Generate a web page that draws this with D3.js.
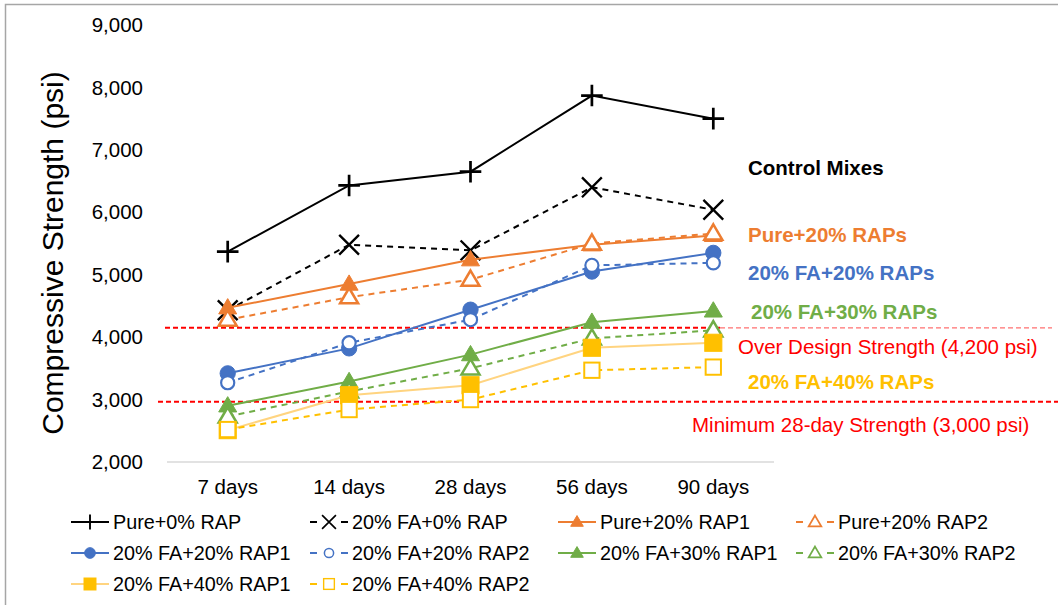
<!DOCTYPE html>
<html>
<head>
<meta charset="utf-8">
<script src="https://cdn.jsdelivr.net/npm/d3@7/dist/d3.min.js"></script>
<style>
  html, body { margin: 0; padding: 0; background: #fff; }
  svg { display: block; font-family: "Liberation Sans", Arial, sans-serif; }
</style>
</head>
<body>
<svg id="chart" width="1058" height="605"></svg>
<script>
// ---- data ----
const categories = ["7 days", "14 days", "28 days", "56 days", "90 days"];
const yTicks = [2000, 3000, 4000, 5000, 6000, 7000, 8000, 9000];

const pure0    = [5370, 6430, 6650, 7870, 7500];
const fa0      = [4430, 5480, 5390, 6400, 6040];
const pure20_1 = [4470, 4850, 5240, 5480, 5630];
const pure20_2 = [4280, 4640, 4920, 5500, 5660];
const fa20_1   = [3420, 3820, 4440, 5050, 5350];
const fa20_2   = [3270, 3910, 4280, 5150, 5190];
const fa30_1   = [2900, 3290, 3720, 4240, 4420];
const fa30_2   = [2730, 3130, 3500, 3980, 4110];
const fa40_1   = [2510, 3070, 3230, 3830, 3910];
const fa40_2   = [2520, 2840, 3000, 3470, 3520];

const seriesNames = [
  "Pure+0% RAP", "20% FA+0% RAP", "Pure+20% RAP1", "Pure+20% RAP2",
  "20% FA+20% RAP1", "20% FA+20% RAP2", "20% FA+30% RAP1", "20% FA+30% RAP2",
  "20% FA+40% RAP1", "20% FA+40% RAP2"
];
const seriesValues = [pure0, fa0, pure20_1, pure20_2, fa20_1, fa20_2, fa30_1, fa30_2, fa40_1, fa40_2];

// reference lines (drawn positions) and annotation texts
const refValues = [4150, 2965];
const refLabels = ["Over Design Strength (4,200 psi)", "Minimum 28-day Strength (3,000 psi)"];
const groupLabels = ["Control Mixes", "Pure+20% RAPs", "20% FA+20% RAPs", "20% FA+30% RAPs", "20% FA+40% RAPs"];

// ---- styles ----
const C = { black: "#000000", orange: "#ED7D31", blue: "#4472C4", green: "#70AD47", yellow: "#FFC000", lightYellow: "#FFD480", red: "#FF0000" };
const styles = [
  { line: C.black, dash: null, marker: "plus", mcol: C.black, fill: true },
  { line: C.black, dash: "6,5", marker: "x", mcol: C.black, fill: true },
  { line: C.orange, dash: null, marker: "triangle", mcol: C.orange, fill: true },
  { line: C.orange, dash: "6,5", marker: "triangle", mcol: C.orange, fill: false },
  { line: C.blue, dash: null, marker: "circle", mcol: C.blue, fill: true },
  { line: C.blue, dash: "6,5", marker: "circle", mcol: C.blue, fill: false },
  { line: C.green, dash: null, marker: "triangle", mcol: C.green, fill: true },
  { line: C.green, dash: "6,5", marker: "triangle", mcol: C.green, fill: false },
  { line: C.lightYellow, dash: null, marker: "square", mcol: C.yellow, fill: true },
  { line: C.yellow, dash: "6,5", marker: "square", mcol: C.yellow, fill: false }
];

const svg = d3.select("#chart");

// outer border
svg.append("path").attr("d", "M5.5,605 V4.5 H1058").attr("fill", "none").attr("stroke", "#A6A6A6").attr("stroke-width", 1.5);

const x = d3.scaleBand().domain(categories).range([167, 774]).padding(0);
const y = d3.scaleLinear().domain([2000, 9000]).range([462, 25]);
const cx = d => x(d) + x.bandwidth() / 2;

// y tick labels
svg.append("g").selectAll("text").data(yTicks).join("text")
  .attr("x", 143).attr("y", d => y(d)).attr("dy", "0.35em")
  .attr("text-anchor", "end").attr("font-size", 20.5).attr("fill", "#000")
  .text(d => d3.format(",")(d));

// x axis baseline
svg.append("line").attr("x1", 167).attr("x2", 774).attr("y1", y(2000)).attr("y2", y(2000))
  .attr("stroke", "#D9D9D9").attr("stroke-width", 1.5);

// x tick labels
svg.append("g").selectAll("text").data(categories).join("text")
  .attr("x", d => cx(d)).attr("y", 494).attr("text-anchor", "middle")
  .attr("font-size", 20.5).attr("fill", "#000").text(d => d);

// y axis title
svg.append("text").attr("transform", "translate(63,253) rotate(-90)")
  .attr("text-anchor", "middle").attr("font-size", 30).attr("fill", "#000")
  .text("Compressive Strength (psi)");

// marker drawing
function drawMarker(g, type, color, filled, s) {
  if (type === "plus") {
    const k = s * 1.2;
    g.append("path").attr("d", `M${-k},0H${k}M0,${-k}V${k}`).attr("stroke", color).attr("stroke-width", s * 0.3).attr("fill", "none");
  } else if (type === "x") {
    const k = s * 1.1;
    g.append("path").attr("d", `M${-k},${-k}L${k},${k}M${-k},${k}L${k},${-k}`).attr("stroke", color).attr("stroke-width", s * 0.26).attr("fill", "none");
  } else if (type === "triangle") {
    const h = s * 1.7, w = s * 1.0;
    g.append("path").attr("d", `M0,${-h * 0.6}L${w},${h * 0.4}L${-w},${h * 0.4}Z`)
      .attr("fill", filled ? color : "#fff").attr("stroke", color).attr("stroke-width", filled ? 1 : s * 0.28);
  } else if (type === "circle") {
    const r = s * 0.85;
    g.append("circle").attr("r", filled ? r : r - s * 0.12)
      .attr("fill", filled ? color : "#fff").attr("stroke", color).attr("stroke-width", filled ? 1 : s * 0.24);
  } else if (type === "square") {
    const a = s * 0.95;
    g.append("rect").attr("x", filled ? -a : -a + s * 0.1).attr("y", filled ? -a : -a + s * 0.1)
      .attr("width", filled ? 2 * a : 2 * a - s * 0.2).attr("height", filled ? 2 * a : 2 * a - s * 0.2)
      .attr("fill", filled ? color : "#fff").attr("stroke", color).attr("stroke-width", filled ? 1 : s * 0.22);
  }
}

// reference lines
const refG = svg.append("g");
refG.append("line").attr("x1", 165).attr("x2", 720).attr("y1", y(refValues[0])).attr("y2", y(refValues[0]))
  .attr("stroke", C.red).attr("stroke-width", 2).attr("stroke-dasharray", "5,3");
refG.append("line").attr("x1", 720).attr("x2", 1052).attr("y1", y(refValues[0])).attr("y2", y(refValues[0]))
  .attr("stroke", "#FF7070").attr("stroke-width", 1.3).attr("stroke-dasharray", "5,3");
refG.append("line").attr("x1", 158).attr("x2", 1058).attr("y1", y(refValues[1])).attr("y2", y(refValues[1]))
  .attr("stroke", C.red).attr("stroke-width", 2).attr("stroke-dasharray", "5,3");

// series
const lineGen = d3.line().x((d, i) => cx(categories[i])).y(d => y(d));
seriesValues.forEach((vals, si) => {
  const st = styles[si];
  const g = svg.append("g");
  g.append("path").datum(vals).attr("d", lineGen).attr("fill", "none")
    .attr("stroke", st.line).attr("stroke-width", 2).attr("stroke-dasharray", st.dash);
  vals.forEach((v, i) => {
    const mg = g.append("g").attr("transform", `translate(${cx(categories[i])},${y(v)})`);
    drawMarker(mg, st.marker, st.mcol, st.fill, 9);
  });
});

// annotations
const ann = [
  { t: groupLabels[0], x: 748, y: 175, c: C.black, b: true },
  { t: groupLabels[1], x: 748, y: 242, c: C.orange, b: true },
  { t: groupLabels[2], x: 748, y: 280, c: C.blue, b: true },
  { t: groupLabels[3], x: 751, y: 319, c: C.green, b: true },
  { t: refLabels[0], x: 738, y: 354, c: C.red, b: false },
  { t: groupLabels[4], x: 748, y: 389, c: C.yellow, b: true },
  { t: refLabels[1], x: 692, y: 432, c: C.red, b: false }
];
svg.append("g").selectAll("text").data(ann).join("text")
  .attr("x", d => d.x).attr("y", d => d.y).attr("fill", d => d.c)
  .attr("font-size", 20.5).attr("font-weight", d => d.b ? "bold" : "normal").text(d => d.t);

// legend
const colX = [71, 310, 558, 796];
const rowY = [522, 553, 584];
seriesNames.forEach((name, si) => {
  const col = si % 4, row = Math.floor(si / 4);
  const st = styles[si];
  const g = svg.append("g").attr("transform", `translate(${colX[col]},${rowY[row]})`);
  if (st.dash) {
    g.append("line").attr("x1", 0).attr("x2", 7).attr("stroke", st.line).attr("stroke-width", 2);
    g.append("line").attr("x1", 31).attr("x2", 38).attr("stroke", st.line).attr("stroke-width", 2);
  } else {
    g.append("line").attr("x1", 0).attr("x2", 38).attr("stroke", st.line).attr("stroke-width", 2);
  }
  const mg = g.append("g").attr("transform", "translate(19,0)");
  drawMarker(mg, st.marker, st.mcol, st.fill, 6.3);
  g.append("text").attr("x", 42).attr("dy", "0.35em").attr("font-size", 19.8).attr("fill", "#000").text(name);
});
</script>
</body>
</html>
